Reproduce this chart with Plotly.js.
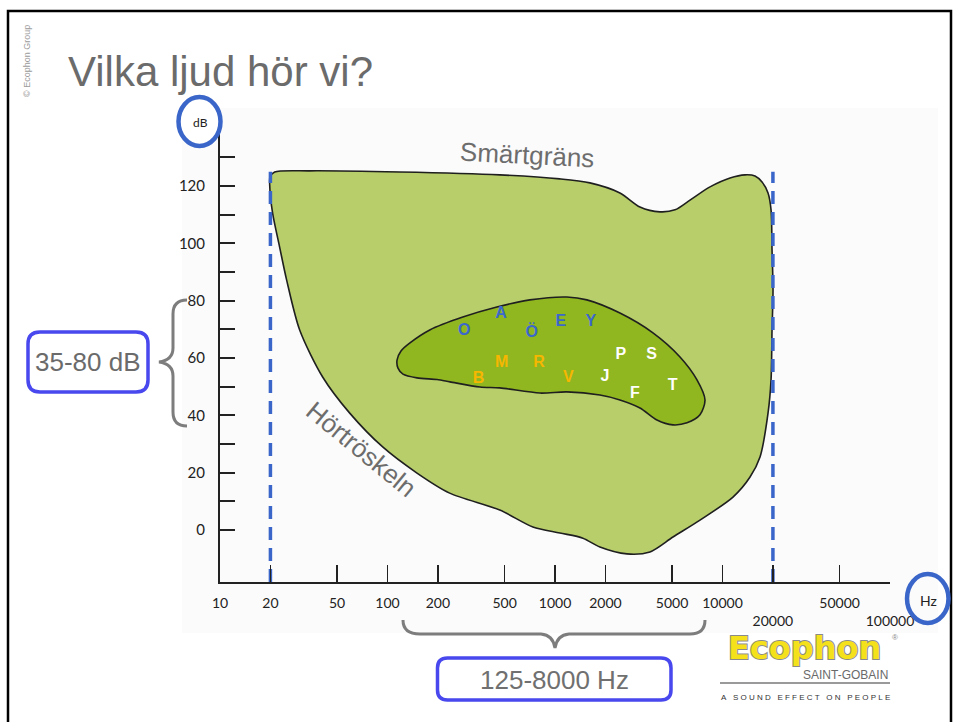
<!DOCTYPE html>
<html>
<head>
<meta charset="utf-8">
<script src="https://cdn.plot.ly/plotly-3.0.1.min.js"></script>
<style>html,body{margin:0;padding:0;background:#fff}#chart{width:954px;height:722px}</style>
</head>
<body>
<div id="chart"></div>
<script>
// ---------- DATA ----------
// Hörområde (outer area): frequency (Hz) and level (dB)
const outerHz = [21.2, 34.3, 118, 468, 1069, 1616, 2441, 3215, 4232, 5203, 6395, 8422, 11090, 13630, 15640, 17220, 18700, 19490, 19760, 20030, 19760, 19490, 18700, 16750, 14600, 11550, 7339, 5062, 3688, 2688, 1854, 1467, 1069, 738, 468, 235, 150, 93.6, 59.5, 41.0, 29.9, 25.0, 22.7, 20.6, 19.8, 19.9, 21.2];
const outerDb = [124.9, 125.3, 124.9, 123.9, 122.5, 121.1, 117.6, 112.7, 111.0, 111.7, 115.1, 119.7, 122.8, 123.9, 123.5, 121.4, 117.6, 111.7, 97.7, 83.7, 69.8, 52.4, 40.8, 25.5, 18.5, 11.5, 3.5, -2.4, -7.6, -8.3, -5.9, -2.8, -1.0, 1.1, 7.0, 12.9, 19.9, 29.0, 40.8, 53.4, 69.8, 87.2, 98.7, 110.6, 120.4, 123.2, 124.9];
// Talområde (speech area)
const innerHz = [114.0, 120.4, 136.2, 178.8, 281.6, 449.5, 707.7, 1177, 1550, 2441, 3844, 5575, 7042, 7862, 7339, 6137, 5062, 4062, 3215, 2441, 1854, 1177, 812, 468, 356.6, 236.1, 197.5, 150, 123.7, 115.5, 114.0];
const innerDb = [59.3, 62.5, 65.3, 69.8, 74.3, 77.8, 80.3, 81.3, 80.3, 75.7, 68.8, 60.4, 52.4, 45.4, 40.2, 37.4, 36.7, 38.4, 42.6, 45.4, 47.1, 48.2, 47.8, 49.6, 49.9, 51.7, 52.5, 53.1, 54.4, 56.5, 59.3];
// Speech sounds
const soundLetters = ['O','A','Ö','E','Y','B','M','R','V','P','S','J','F','T'];
const soundHz      = [287, 476, 726, 1082, 1634, 350, 481, 803, 1201, 2468, 3778, 1988, 3003, 5043];
const soundDb      = [69.6, 75.3, 68.8, 72.5, 72.5, 52.8, 58.4, 58.4, 53.2, 61.1, 61.1, 53.3, 47.4, 50.3];
const soundGroup   = ['vokal','vokal','vokal','vokal','vokal','tonande','tonande','tonande','tonande','tonlös','tonlös','tonlös','tonlös','tonlös'];
// Hearing range limits
const limitHz = [20, 20000];
const limitTopDb = 125;
// Axes
const xTickVals = [10, 20, 50, 100, 200, 500, 1000, 2000, 5000, 10000, 20000, 50000, 100000];
const xTickText = ['10','20','50','100','200','500','1000','2000','5000','10000','\u00A0<br>20000','50000','\u00A0<br>100000'];
const yTickVals = [0,10,20,30,40,50,60,70,80,90,100,110,120,130];
const yTickText = ['0','','20','','40','','60','','80','','100','','120',''];
const yRange = [-18.1, 138.5];

// ---------- LAYOUT HELPERS (pixel -> paper) ----------
const X0 = 220, W = 670, Y0 = 582, H = 449;
const px = x => (x - X0) / W;
const py = y => (Y0 - y) / H;
const toPaper = s => s.replace(/(-?\d+\.?\d*),(-?\d+\.?\d*)/g, (m, a, b) => px(+a).toFixed(5) + ',' + py(+b).toFixed(5));
function rrect(x0, y0, x1, y1, r) {
  return toPaper(`M${x0+r},${y0} L${x1-r},${y0} Q${x1},${y0} ${x1},${y0+r} L${x1},${y1-r} Q${x1},${y1} ${x1-r},${y1} L${x0+r},${y1} Q${x0},${y1} ${x0},${y1-r} L${x0},${y0+r} Q${x0},${y0} ${x0+r},${y0} Z`);
}

const groupColor = {vokal:'#3b68cc', tonande:'#f6b700', tonlös:'#ffffff'};
const blue = '#3a66c9';
const boxBlue = '#4848ee';
const bracketGray = '#7d7d7d';

const traces = [
  {x: outerHz, y: outerDb, type:'scatter', mode:'lines', fill:'toself', fillcolor:'#b7ce6b',
   line:{color:'#1f1f1f', width:1.6, shape:'spline', smoothing:0.8}, hoverinfo:'skip'},
  {x: innerHz, y: innerDb, type:'scatter', mode:'lines', fill:'toself', fillcolor:'#90b620',
   line:{color:'#1f1f1f', width:1.6, shape:'spline', smoothing:0.8}, hoverinfo:'skip'},
  {x: [limitHz[0], limitHz[0]], y: [yRange[0], limitTopDb], type:'scatter', mode:'lines', cliponaxis:false,
   line:{color:blue, width:3.5, dash:'13px,8px'}, hoverinfo:'skip'},
  {x: [limitHz[1], limitHz[1]], y: [yRange[0], limitTopDb], type:'scatter', mode:'lines', cliponaxis:false,
   line:{color:blue, width:3.5, dash:'13px,8px'}, hoverinfo:'skip'},
  {x: soundHz, y: soundDb, type:'scatter', mode:'text', text: soundLetters, textposition:'middle center',
   textfont:{family:'Liberation Sans, Arial, sans-serif', size:16, weight:'bold', color: soundGroup.map(g => groupColor[g])},
   hoverinfo:'skip'}
];

const shapes = [
  {type:'rect', xref:'paper', yref:'paper', x0:px(182), x1:px(938), y0:py(633), y1:py(108), fillcolor:'#fbfbfb', line:{width:0}, layer:'below'},
  {type:'rect', xref:'paper', yref:'paper', x0:px(8), x1:px(951), y0:py(760), y1:py(11), line:{color:'#000', width:2.5}},
  {type:'circle', xref:'paper', yref:'paper', x0:px(178.5), x1:px(220.5), y0:py(146), y1:py(97), fillcolor:'#ffffff', line:{color:blue, width:4.5}},
  {type:'circle', xref:'paper', yref:'paper', x0:px(907), x1:px(948.5), y0:py(623), y1:py(574), line:{color:blue, width:4.5}},
  {type:'path', xref:'paper', yref:'paper', line:{color:bracketGray, width:3},
   path: toPaper('M187,300 Q173,300 173,314 L173,348 Q173,360 159,362 Q173,364 173,376 L173,412 Q173,426 187,426')},
  {type:'path', xref:'paper', yref:'paper', line:{color:bracketGray, width:3},
   path: toPaper('M403,620 Q403,634 420,634 L541,634 Q553,635 555,648 Q557,635 569,634 L690,634 Q705,634 705,620')},
  {type:'path', xref:'paper', yref:'paper', line:{color:boxBlue, width:3.5}, path: rrect(28,332,148,392,12)},
  {type:'path', xref:'paper', yref:'paper', line:{color:boxBlue, width:3.5}, path: rrect(437.5,658,671,700,10)},
  {type:'line', xref:'paper', yref:'paper', x0:px(720), x1:px(890), y0:py(683), y1:py(683), line:{color:'#9a9a9a', width:2}}
];

const base = {xref:'paper', yref:'paper', showarrow:false, xanchor:'center', yanchor:'middle'};
const ann = (o) => Object.assign({}, base, o);
const arial = 'Liberation Sans, Arial, sans-serif';
const tagline = 'A SOUND EFFECT ON PEOPLE'.split(' ').map(w => w.split('').join('\u00A0')).join('\u00A0\u00A0\u00A0');
const annotations = [
  ann({x:px(66), y:py(72), xanchor:'left', text:'Vilka ljud hör vi?', font:{family:arial, size:42, color:'#6b6b6b'}}),
  ann({x:px(27), y:py(61), text:'© Ecophon Group', textangle:-90, font:{family:arial, size:9, color:'#9a9a9a'}}),
  ann({x:px(200), y:py(122), text:'dB', font:{family:'Lato, sans-serif', size:12, color:'#222'}}),
  ann({x:px(928), y:py(600), text:'Hz', font:{family:'Lato, sans-serif', size:14, color:'#222'}}),
  ann({x:px(88), y:py(362), text:'35-80 dB', font:{family:arial, size:26, color:'#6b6b6b'}}),
  ann({x:px(554), y:py(680), text:'125-8000 Hz', font:{family:arial, size:26, color:'#707070'}}),
  ann({x:px(527), y:py(155), text:'Smärtgräns', textangle:3, font:{family:arial, size:26, color:'#6d6d6d'}}),
  ann({x:px(361), y:py(449), text:'Hörtröskeln', textangle:39.5, font:{family:arial, size:26, color:'#6d6d6d'}}),
  ann({x:px(804), y:py(648), text:'<span style="stroke:#8a8a8a;stroke-width:2px;paint-order:stroke">Ecophon</span>', font:{family:'DejaVu Sans, sans-serif', size:32, weight:'bold', color:'#f5e01c'}}),
  ann({x:px(895), y:py(637), text:'®', font:{family:arial, size:8, color:'#888'}}),
  ann({x:px(890), y:py(675), xanchor:'right', text:'SAINT-GOBAIN', font:{family:arial, size:12, color:'#6a6a6a'}}),
  ann({x:px(805), y:py(697), text:tagline, font:{family:arial, size:8, color:'#333'}})
];

const layout = {
  width:954, height:722,
  margin:{l:X0, r:954-X0-W, t:Y0-H, b:722-Y0, pad:0},
  paper_bgcolor:'#ffffff', plot_bgcolor:'rgba(0,0,0,0)',
  showlegend:false,
  xaxis:{type:'log', range:[1,5], tickvals:xTickVals, ticktext:xTickText, ticks:'inside', ticklen:17, tickwidth:1.5, tickcolor:'#222',
         showline:true, linecolor:'#222', linewidth:2, showgrid:false, zeroline:false, ticklabelstandoff:7,
         tickfont:{family:'Lato, sans-serif', size:14, color:'#222'}, fixedrange:true},
  yaxis:{range:yRange, tickvals:yTickVals, ticktext:yTickText, ticks:'inside', ticklen:15, tickwidth:2, tickcolor:'#222',
         showline:true, linecolor:'#222', linewidth:2, showgrid:false, zeroline:false, ticklabelstandoff:10,
         tickfont:{family:'Lato, sans-serif', size:15, color:'#222'}, fixedrange:true},
  shapes: shapes,
  annotations: annotations
};

Plotly.newPlot('chart', traces, layout, {staticPlot:true, displayModeBar:false});
</script>
</body>
</html>
